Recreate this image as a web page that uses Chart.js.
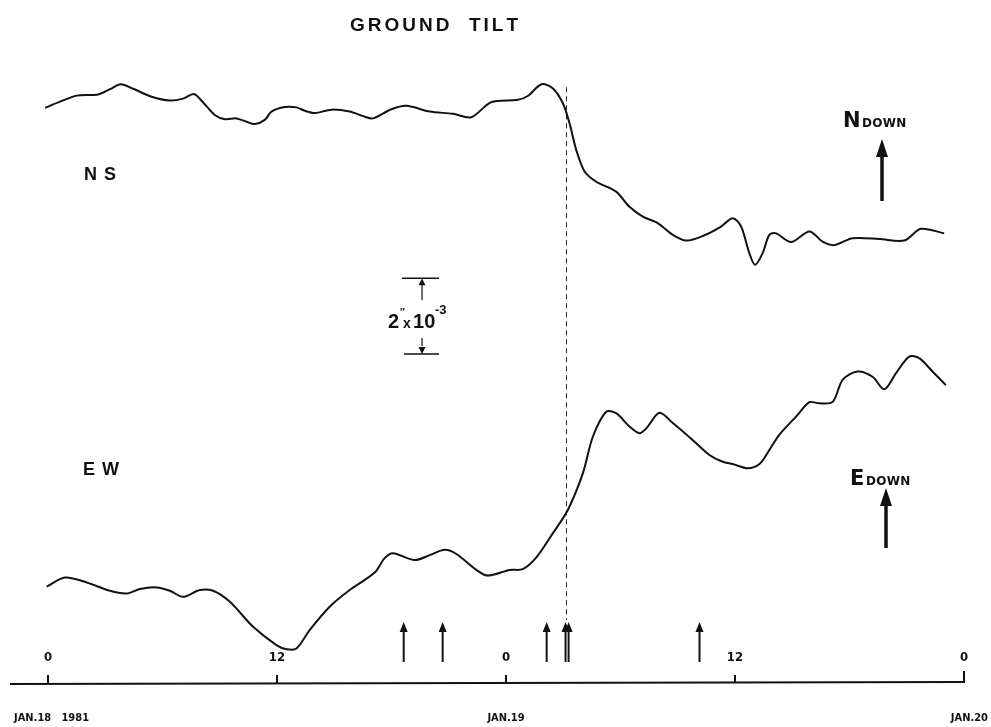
<!DOCTYPE html>
<html>
<head>
<meta charset="utf-8">
<script src="https://cdn.jsdelivr.net/npm/chart.js@4.4.1/dist/chart.umd.min.js"></script>
<style>
  body { margin: 0; background: #fff; }
  canvas { display: block; }
</style>
</head>
<body>
<canvas id="tilt-chart" width="991" height="727"></canvas>
<script>
// hours since 0h Jan 18 1981, tilt in units of 1e-3 arc-second (offset only for placement)
let hours_ns = [-0.15, 0.63, 1.5, 2.63, 3.25, 3.81, 4.47, 5.43, 6.39, 7.08, 7.64, 8.13, 8.74, 9.27, 9.88,
    10.4, 10.84, 11.36, 11.71, 12.41, 13.02, 13.46, 13.98, 14.85, 15.81, 16.51, 17.03, 17.99, 18.78, 20.0,
    21.22, 22.18, 23.23, 24.62, 25.14, 25.86, 26.46, 26.98, 27.33, 27.68, 28.12, 28.73, 29.77, 30.47, 31.17,
    31.95, 32.74, 33.44, 34.31, 35.27, 35.88, 36.32, 36.75, 37.05, 37.45, 37.8, 38.15, 38.94, 39.9, 40.59,
    41.2, 42.16, 43.56, 44.87, 45.74, 46.96]
let tilt_ns = [15.16, 15.32, 15.48, 15.51, 15.65, 15.78, 15.66, 15.45, 15.35, 15.4, 15.52, 15.3, 14.97, 14.86, 14.88,
    14.79, 14.73, 14.84, 15.06, 15.18, 15.17, 15.08, 15.02, 15.11, 15.06, 14.94, 14.88, 15.12, 15.21, 15.06,
    15.0, 14.91, 15.31, 15.37, 15.47, 15.78, 15.67, 15.28, 14.75, 14.05, 13.48, 13.21, 12.95, 12.55, 12.29,
    12.12, 11.81, 11.66, 11.78, 12.03, 12.25, 12.03, 11.33, 11.02, 11.33, 11.81, 11.85, 11.62, 11.9, 11.63,
    11.54, 11.72, 11.7, 11.66, 11.97, 11.85]

let hours_ew = [-0.07, 0.89, 2.03, 3.25, 4.12, 4.82, 5.69, 6.39, 7.08, 7.96, 8.65, 9.53, 10.75, 11.97, 12.5,
    13.02, 13.72, 14.76, 15.81, 17.12, 17.64, 18.08, 19.21, 20.0, 20.79, 21.4, 22.45, 23.05, 24.19, 24.88,
    25.59, 26.46, 27.24, 28.03, 28.55, 29.25, 29.77, 30.47, 30.99, 31.35, 32.04, 32.74, 33.79, 34.66, 35.36,
    35.88, 36.66, 37.28, 37.8, 38.32, 39.2, 39.9, 40.42, 41.12, 41.64, 42.42, 43.21, 43.82, 44.43, 45.13,
    45.65, 46.35, 47.05]
let tilt_ew = [2.54, 2.78, 2.65, 2.43, 2.36, 2.48, 2.52, 2.43, 2.27, 2.45, 2.43, 2.14, 1.48, 1.0, 0.89,
    0.91, 1.4, 2.01, 2.45, 2.91, 3.29, 3.42, 3.24, 3.37, 3.51, 3.4, 2.98, 2.83, 2.98, 3.0,
    3.31, 3.95, 4.56, 5.53, 6.49, 7.15, 7.11, 6.76, 6.58, 6.71, 7.12, 6.85, 6.4, 6.01, 5.83,
    5.77, 5.66, 5.77, 6.14, 6.54, 7.02, 7.4, 7.37, 7.41, 7.99, 8.21, 8.07, 7.74, 8.16, 8.6,
    8.56, 8.21, 7.85]

// marked events (small arrows) and the dashed line of the main event
let event_hours = [18.64, 20.68, 26.13, 27.12, 27.28, 34.14]
let main_event = 27.17
let dash_span = [15.7, 1.66]

let tick_hours = [0, 12, 24, 36, 48]
let tick_labels = ['0', '12', '0', '12', '0']
let date_hours = [0, 24, 48]
let date_labels = ['JAN.18   1981', 'JAN.19', 'JAN.20']

// scale bar: 2" x 10^-3, bottom placed at tilt value 8.67, hour 19.6
let scale_bar = { hour: 19.6, bottom: 8.67, size: 2 }

function toPoints(xs, ys) {
    return xs.map((x, i) => ({ x: x, y: ys[i] }));
}

function arrow(ctx, x, yBase, yTip, width, head, headW) {
    ctx.beginPath();
    ctx.lineWidth = width;
    ctx.moveTo(x, yBase);
    ctx.lineTo(x, yTip + head - 1);
    ctx.stroke();
    ctx.beginPath();
    ctx.moveTo(x, yTip);
    ctx.lineTo(x - headW, yTip + head);
    ctx.lineTo(x + headW, yTip + head);
    ctx.closePath();
    ctx.fill();
}

function spaced(ctx, text, x, y, spacing) {
    // draw text char by char with extra spacing, x = left edge
    for (let ch of text) {
        ctx.fillText(ch, x, y);
        x += ctx.measureText(ch).width + spacing;
    }
}

function spacedWidth(ctx, text, spacing) {
    let w = 0;
    for (let ch of text) w += ctx.measureText(ch).width + spacing;
    return w - spacing;
}

const decorations = {
    id: 'decorations',
    afterDatasetsDraw(chart) {
        const ctx = chart.ctx;
        const xs = chart.scales.x;
        const ys = chart.scales.y;
        ctx.save();
        ctx.fillStyle = '#111';
        ctx.strokeStyle = '#111';
        ctx.textBaseline = 'alphabetic';

        // title
        ctx.font = 'bold 19px "Liberation Sans", Arial, sans-serif';
        let t = 'GROUND  TILT';
        spaced(ctx, t, 434 - spacedWidth(ctx, t, 3) / 2, 31, 3);

        // curve labels
        ctx.font = 'bold 18px "Liberation Sans", Arial, sans-serif';
        spaced(ctx, 'NS', 84, 180, 7);
        spaced(ctx, 'EW', 83, 475, 7);

        // direction labels with arrows
        ctx.font = 'bold 21px "DejaVu Sans", sans-serif';
        ctx.fillText('N', 843, 127);
        ctx.fillText('E', 850, 485);
        ctx.font = 'bold 12px "DejaVu Sans", sans-serif';
        spaced(ctx, 'DOWN', 862, 127, 0.3);
        spaced(ctx, 'DOWN', 866, 485, 0.3);
        arrow(ctx, 882, 201, 139, 3.5, 18, 6);
        arrow(ctx, 886, 548, 488, 3.5, 18, 6);

        // scale bar
        let sx = xs.getPixelForValue(scale_bar.hour);
        let yb = ys.getPixelForValue(scale_bar.bottom);
        let yt = ys.getPixelForValue(scale_bar.bottom + scale_bar.size);
        ctx.lineWidth = 1.5;
        ctx.beginPath();
        ctx.moveTo(sx - 20, yt); ctx.lineTo(sx + 17, yt);
        ctx.moveTo(sx - 18, yb); ctx.lineTo(sx + 17, yb);
        ctx.stroke();
        arrow(ctx, sx, yt + 22, yt, 1.2, 7, 3.5);
        arrow(ctx, sx, yb - 16, yb, 1.2, -7, 3.5);
        ctx.font = 'bold 20px "Liberation Sans", Arial, sans-serif';
        ctx.fillText('2', sx - 34, yt + 50);
        ctx.font = 'bold 10px "Liberation Sans", Arial, sans-serif';
        ctx.fillText('\u2033', sx - 22, yt + 38);
        ctx.font = 'bold 14px "Liberation Sans", Arial, sans-serif';
        ctx.fillText('x', sx - 19, yt + 50);
        ctx.font = 'bold 20px "Liberation Sans", Arial, sans-serif';
        ctx.fillText('10', sx - 9, yt + 50);
        ctx.font = 'bold 13px "Liberation Sans", Arial, sans-serif';
        ctx.fillText('-3', sx + 13, yt + 36);

        // event arrows
        let base = chart.chartArea.bottom - 21;
        event_hours.forEach(h => {
            arrow(ctx, xs.getPixelForValue(h), base, base - 40, 2, 10, 4);
        });

        // time axis
        let ay = chart.chartArea.bottom;
        ctx.lineWidth = 2;
        ctx.beginPath();
        ctx.moveTo(10, ay + 1);
        ctx.lineTo(xs.getPixelForValue(48), ay - 1);
        ctx.stroke();
        ctx.font = 'bold 13px "DejaVu Sans Condensed", "DejaVu Sans", sans-serif';
        ctx.textAlign = 'center';
        tick_hours.forEach((h, i) => {
            let px = xs.getPixelForValue(h);
            ctx.lineWidth = 2;
            ctx.beginPath();
            ctx.moveTo(px, ay);
            ctx.lineTo(px, ay - (i == tick_hours.length - 1 ? 12 : 8));
            ctx.stroke();
            ctx.fillText(tick_labels[i], px, ay - 22);
        });
        ctx.font = 'bold 11px "DejaVu Sans Condensed", "DejaVu Sans", sans-serif';
        date_hours.forEach((h, i) => {
            let px = xs.getPixelForValue(h);
            let w = ctx.measureText(date_labels[i]).width;
            let left = px - w / 2;
            if (i == 0) left = 14;
            if (i == date_hours.length - 1) left = 988 - w;
            ctx.textAlign = 'left';
            ctx.fillText(date_labels[i], left, ay + 38);
        });
        ctx.restore();
    }
};

new Chart(document.getElementById('tilt-chart'), {
    type: 'line',
    data: {
        datasets: [
            {
                label: 'NS',
                data: toPoints(hours_ns, tilt_ns),
                borderColor: '#111',
                borderWidth: 2,
                pointRadius: 0,
                tension: 0.3,
                clip: false
            },
            {
                label: 'EW',
                data: toPoints(hours_ew, tilt_ew),
                borderColor: '#111',
                borderWidth: 2,
                pointRadius: 0,
                tension: 0.3,
                clip: false
            },
            {
                label: 'event',
                data: [{ x: main_event, y: dash_span[0] }, { x: main_event, y: dash_span[1] }],
                borderColor: '#222',
                borderWidth: 1,
                borderDash: [5, 4],
                pointRadius: 0
            }
        ]
    },
    options: {
        responsive: false,
        animation: false,
        layout: { padding: { left: 48, right: 27, top: 0, bottom: 44 } },
        scales: {
            x: { type: 'linear', min: 0, max: 48, display: false },
            y: { type: 'linear', min: 0, max: 18, display: false }
        },
        plugins: {
            legend: { display: false },
            tooltip: { enabled: false }
        }
    },
    plugins: [decorations]
});
</script>
</body>
</html>
